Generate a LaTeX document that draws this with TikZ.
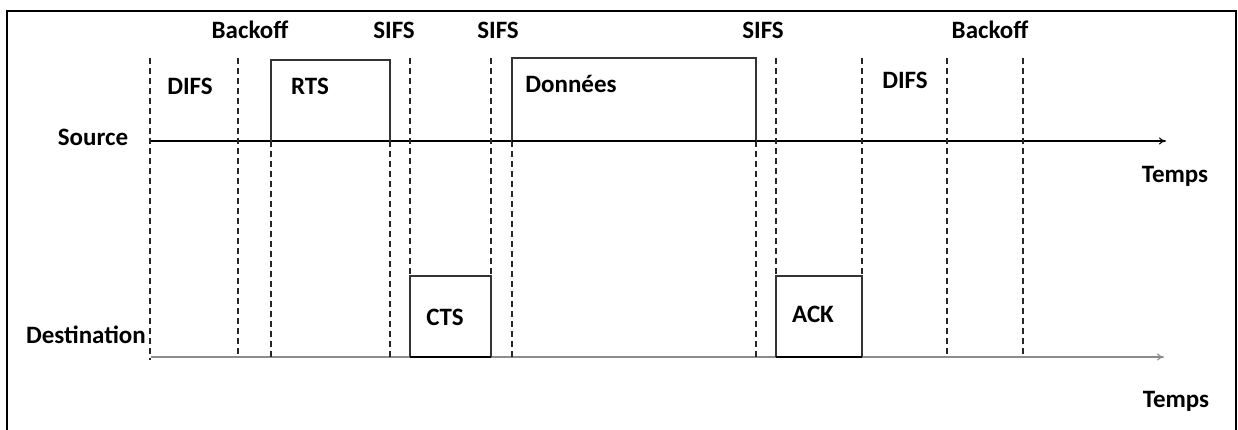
\documentclass[tikz,border=0pt]{standalone}
\usepackage{fontspec}
\setmainfont{Carlito}
\usetikzlibrary{arrows.meta}

\tikzstyle{lbl} = [font=\bfseries\fontsize{25}{27}\selectfont, inner sep=0pt, anchor=base]
\tikzstyle{tick} = [draw=black!85, line width=1.3pt, dash pattern=on 6pt off 4pt]
\tikzstyle{frame} = [draw=black!80, line width=1.1pt]
\tikzstyle{axis} = [line width=1.1pt, -{To[length=7pt,width=7pt]}]

\begin{document}
\begin{tikzpicture}[x=1pt,y=-1pt]
\useasboundingbox (0,0) rectangle (1238,430);
% outer border
\draw[line width=2.2pt] (7,430) -- (7,11) -- (1236,11) -- (1236,430);

% time axes
\coordinate (src0) at (151,141);
\coordinate (src1) at (1166,141);
\coordinate (dst0) at (151,357);
\coordinate (dst1) at (1164,357);
\draw[axis] (src0) -- (src1);
\draw[axis, draw=black!45] (dst0) -- (dst1);

% dashed time marks: x / top / bottom
\foreach \x/\a/\b in {150/58/360, 238/58/357, 271/141/357, 390/141/357,
	410/58/276, 491/58/276, 512/141/357, 756/141/357,
	776/58/276, 862/58/276, 947/58/357, 1023/58/357}
	\draw[tick] (\x,\a) -- (\x,\b);

% frames
\draw[frame] (271,141) -- (271,60) -- (390,60) -- (390,141);
\draw[frame] (512,141) -- (512,58) -- (756,58) -- (756,141);
\draw[line width=1.8pt] (512,141) -- (756,141);
\draw[frame] (410,357) -- (410,276) -- (491,276) -- (491,357);
\draw[frame] (776,357) -- (776,276) -- (862,276) -- (862,357);
\draw[line width=1.3pt] (410,357) -- (491,357);
\draw[line width=1.3pt] (776,357) -- (862,357);

% labels
\node[lbl] (bo1) at (250,39) {Backoff};
\node[lbl] (sifs1) at (394,39) {SIFS};
\node[lbl] (sifs2) at (498,39) {SIFS};
\node[lbl] (sifs3) at (763,39) {SIFS};
\node[lbl] (bo2) at (990,39) {Backoff};
\node[lbl] (difs1) at (190,95) {DIFS};
\node[lbl] (rts) at (310,95) {RTS};
\node[lbl] (data) at (571,93) {Données};
\node[lbl] (difs2) at (905,89) {DIFS};
\node[lbl] (src) at (93,146) {Source};
\node[lbl] (dst) at (86,343) {Destination};
\node[lbl] (cts) at (445,325) {CTS};
\node[lbl] (ack) at (813,322) {ACK};
\node[lbl] (t1) at (1175,183) {Temps};
\node[lbl] (t2) at (1176,407) {Temps};
\end{tikzpicture}
\end{document}
